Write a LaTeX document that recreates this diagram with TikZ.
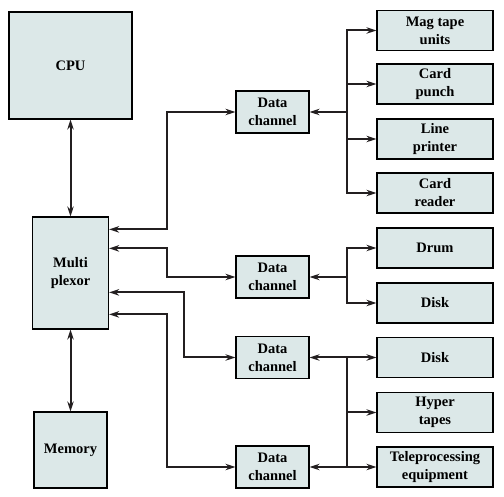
\documentclass[tikz,border=0pt]{standalone}
\usepackage{fontspec}
\setmainfont{Liberation Serif}
\newfontfamily\boxfont{Liberation Serif}[UprightFont={* Bold}]
\usetikzlibrary{arrows.meta}
\definecolor{boxfill}{RGB}{220,232,232}
\definecolor{linegray}{RGB}{35,31,32}

\begin{document}
\begin{tikzpicture}[x=1pt,y=-1pt,
    unit/.style={draw=black,line width=1.3pt,fill=boxfill,align=center,
        inner sep=0pt,font=\boxfont\fontsize{14.5}{18}\selectfont},
    device/.style={unit,minimum width=116pt,minimum height=40pt},
    channel/.style={unit,minimum width=73pt,minimum height=42pt},
    link/.style={draw=linegray,line width=2pt,
        arrows={-Stealth[length=10pt,width=6.5pt]}},
    dlink/.style={link,arrows={Stealth[length=10pt,width=6.5pt]-Stealth[length=10pt,width=6.5pt]}}]
        \useasboundingbox (0,0) rectangle (504,497);

        % Left column
        \node[unit,minimum width=123pt,minimum height=107pt] (cpu) at (70.5,65.5) {CPU};
        \node[unit,minimum width=76pt,minimum height=112pt] (mux) at (70.5,273) {Multi\\plexor};
        \node[unit,minimum width=73pt,minimum height=76pt] (mem) at (70.5,450) {Memory};

        % Data channels
        \node[channel] (dc1) at (272.5,112) {Data\\channel};
        \node[channel] (dc2) at (272.5,277) {Data\\channel};
        \node[channel] (dc3) at (272.5,357.5) {Data\\channel};
        \node[channel] (dc4) at (272.5,467) {Data\\channel};

        % Devices
        \node[device] (magtape) at (435,30.5) {Mag tape\\units};
        \node[device] (punch) at (435,84) {Card\\punch};
        \node[device] (printer) at (435,139) {Line\\printer};
        \node[device] (reader) at (435,193) {Card\\reader};
        \node[device] (drum) at (435,248) {Drum};
        \node[device] (diska) at (435,303) {Disk};
        \node[device] (diskb) at (435,357.5) {Disk};
        \node[device] (hyper) at (435,412.5) {Hyper\\tapes};
        \node[device] (telep) at (435,467) {Teleprocessing\\equipment};

        % CPU and memory to multiplexor
        \draw[dlink] (cpu.south) -- (mux.north);
        \draw[dlink] (mux.south) -- (mem.north);

        % Multiplexor to data channels
        \draw[dlink] ([yshift=-13pt]mux.north east) -- ++(58,0) |- (dc1.west);
        \draw[dlink] ([yshift=-32pt]mux.north east) -- ++(58,0) |- (dc2.west);
        \draw[dlink] ([yshift=-76pt]mux.north east) -- ++(75,0) |- (dc3.west);
        \draw[dlink] ([yshift=-98pt]mux.north east) -- ++(58,0) |- (dc4.west);

        % Bus points
        \coordinate (b1) at ([xshift=37pt]dc1.east);
        \coordinate (b2) at ([xshift=37pt]dc2.east);
        \coordinate (b3) at ([xshift=37pt]dc3.east);
        \coordinate (b4) at ([xshift=37pt]dc4.east);

        % First channel
        \draw[link] (b1) -- (dc1.east);
        \foreach \d in {magtape,punch,printer,reader}
            \draw[link] (b1) |- (\d.west);

        % Second channel
        \draw[link] (b2) -- (dc2.east);
        \foreach \d in {drum,diska}
            \draw[link] (b2) |- (\d.west);

        % Shared bus for the last two channels
        \draw[dlink] (dc3.east) -- (diskb.west);
        \draw[dlink] (dc4.east) -- (telep.west);
        \draw[link,arrows=-] (b3) -- (b4);
        \draw[link] (b3) |- (hyper.west);
    \end{tikzpicture}
\end{document}
